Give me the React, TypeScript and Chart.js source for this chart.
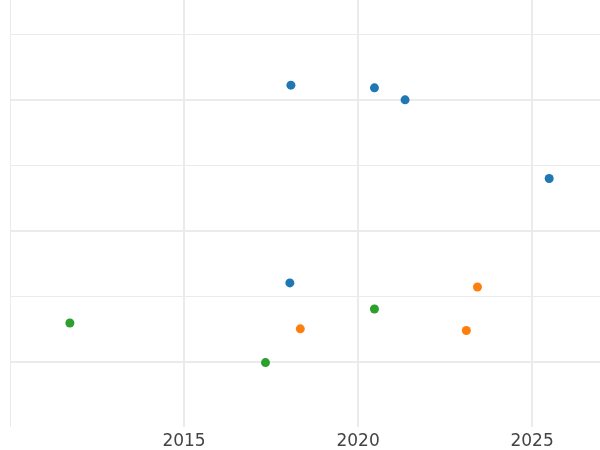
import React, { useEffect, useRef } from "react";
import { Chart, registerables } from "chart.js";

Chart.register(...registerables);

const blueX = [2018.07, 2020.47, 2021.35, 2025.49, 2018.04];
const blueY = [3.112, 3.092, 3.0, 2.399, 1.601];
const orangeX = [2023.43, 2018.34, 2023.11];
const orangeY = [1.57, 1.25, 1.237];
const greenX = [2011.72, 2020.47, 2017.34];
const greenY = [1.295, 1.402, 0.992];

const xTicks = [2010, 2015, 2020, 2025];
const yTicks = [1, 1.5, 2, 2.5, 3, 3.5];
const xMin = 2010;
const xMax = 2026.95;
const yMin = 0.5;
const yMax = 3.763;

const pts = (xs: number[], ys: number[]) => xs.map((x, i) => ({ x, y: ys[i] }));

export default function App() {
  const ref = useRef<HTMLCanvasElement>(null);
  useEffect(() => {
    if (!ref.current) return;
    const mk = (label: string, xs: number[], ys: number[], color: string) => ({
      label,
      data: pts(xs, ys),
      backgroundColor: color,
      borderColor: color,
      pointRadius: 4.5,
      pointBorderWidth: 0,
    });
    const chart = new Chart(ref.current, {
      type: "scatter",
      data: {
        datasets: [
          mk("A", blueX, blueY, "#1f77b4"),
          mk("B", orangeX, orangeY, "#ff7f0e"),
          mk("C", greenX, greenY, "#2ca02c"),
        ],
      },
      options: {
        responsive: false,
        animation: false,
        layout: { autoPadding: false, padding: { left: 10, right: 0, top: 0, bottom: 0 } },
        plugins: { legend: { display: false }, tooltip: { enabled: false } },
        scales: {
          x: {
            type: "linear",
            min: xMin,
            max: xMax,
            afterBuildTicks: (s: any) => {
              s.ticks = xTicks.map((v) => ({ value: v }));
            },
            afterFit: (s: any) => {
              s.height = 23;
            },
            border: { display: false },
            grid: {
              color: "#ebebeb",
              lineWidth: (c: any) => (c.tick && c.tick.value === 2010 ? 1 : 2),
              drawTicks: false,
            },
            ticks: {
              autoSkip: false,
              maxRotation: 0,
              padding: 4,
              color: "#444444",
              font: { family: "DejaVu Sans", size: 17 },
              callback: (v: any) => (v === 2010 ? "" : String(v)),
            },
          },
          y: {
            type: "linear",
            display: true,
            min: yMin,
            max: yMax,
            afterBuildTicks: (s: any) => {
              s.ticks = yTicks.map((v) => ({ value: v }));
            },
            afterFit: (s: any) => {
              s.width = 0;
            },
            border: { display: false },
            grid: {
              color: "#ebebeb",
              lineWidth: (c: any) =>
                c.tick && Math.abs(c.tick.value - Math.round(c.tick.value)) < 1e-6 ? 2 : 1,
              drawTicks: false,
            },
            ticks: { display: false },
          },
        },
      },
    } as any);
    return () => chart.destroy();
  }, []);
  return (
    <div style={{ position: "fixed", left: 0, top: 0, width: 600, height: 450, background: "#fff" }}>
      <canvas ref={ref} width={600} height={450} />
    </div>
  );
}
